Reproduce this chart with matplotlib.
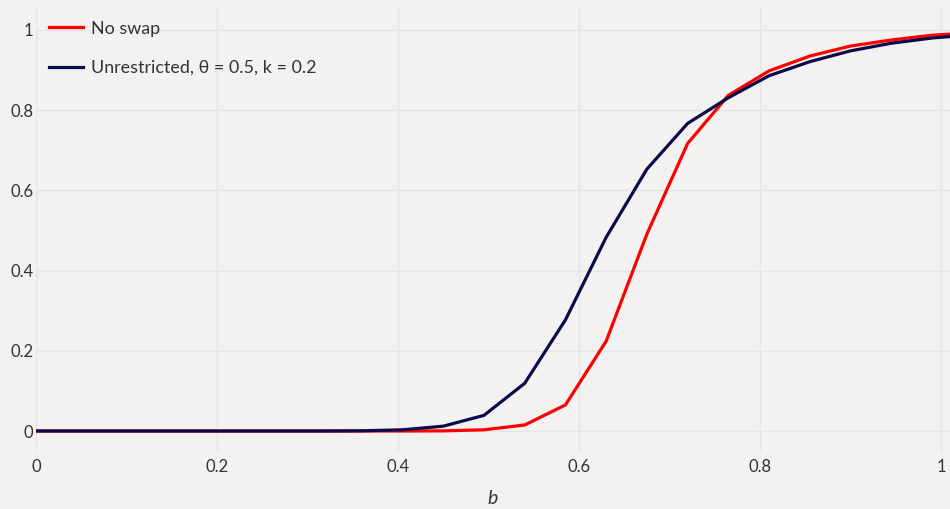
import matplotlib
matplotlib.use("Agg")
import matplotlib.pyplot as plt

# Fraction of outcomes vs. b for the two regimes
b_values = [0.0, 0.045, 0.09, 0.135, 0.18, 0.225, 0.27, 0.315, 0.36, 0.405,
            0.45, 0.495, 0.54, 0.585, 0.63, 0.675, 0.72, 0.765, 0.81, 0.855,
            0.9, 0.945, 0.99, 1.035]
no_swap = [0.0, 0.0, 0.0, 0.0, 0.0, 0.0, 0.0, 0.0, 0.0, 0.0,
           0.0003, 0.003, 0.015, 0.065, 0.224, 0.491, 0.717, 0.837, 0.898, 0.935,
           0.960, 0.975, 0.987, 0.993]
unrestricted = [0.0, 0.0, 0.0, 0.0, 0.0, 0.0, 0.0, 0.0, 0.0005, 0.003,
                0.012, 0.039, 0.119, 0.277, 0.483, 0.653, 0.767, 0.831, 0.886, 0.921,
                0.948, 0.967, 0.980, 0.988]

series_labels = ["No swap", "Unrestricted, \u03b8 = 0.5, k = 0.2"]
series_colors = ["#ff0000", "#0b0b4b"]
x_ticks = [0, 0.2, 0.4, 0.6, 0.8, 1.0]
x_tick_labels = ["0", "0.2", "0.4", "0.6", "0.8", "1"]
y_ticks = [0, 0.2, 0.4, 0.6, 0.8, 1.0]
y_tick_labels = ["0", "0.2", "0.4", "0.6", "0.8", "1"]

plt.rcParams["font.family"] = ["Lato", "DejaVu Sans"]
bg = "#f3f2f0"
grid_c = "#e7e5e2"

fig = plt.figure(figsize=(9.5, 5.09), dpi=100, facecolor=bg)
ax = fig.add_axes([36 / 950, 1 - 453 / 509, 1 - 36 / 950, (453 - 8) / 509])
ax.set_facecolor(bg)

ax.plot(b_values, no_swap, color=series_colors[0], lw=2.3, label=series_labels[0],
        solid_joinstyle="miter", zorder=3)
ax.plot(b_values, unrestricted, color=series_colors[1], lw=2.3, label=series_labels[1],
        solid_joinstyle="miter", zorder=4)

ax.set_xlim(0, 914 / 905)
ax.set_ylim(-22 / 401, 423 / 401)
ax.set_xticks(x_ticks)
ax.set_xticklabels(x_tick_labels)
ax.set_yticks(y_ticks)
ax.set_yticklabels(y_tick_labels)
ax.grid(True, color=grid_c, lw=1.0)
ax.set_axisbelow(True)
for s in ax.spines.values():
    s.set_visible(False)
ax.tick_params(axis="both", length=0, labelsize=12, colors="#333333")
ax.tick_params(axis="x", pad=4)
ax.tick_params(axis="y", pad=2)
ax.set_xlabel("b", fontsize=14, style="italic", color="#333333", labelpad=11)

leg = ax.legend(loc="upper left", bbox_to_anchor=(0.0, 1.0), frameon=False,
                fontsize=12.9, handlelength=1.95, handletextpad=0.42,
                labelspacing=1.3, borderaxespad=0.3)
for t in leg.get_texts():
    t.set_color("#333333")

fig.savefig("out.png", dpi=100, facecolor=bg)
